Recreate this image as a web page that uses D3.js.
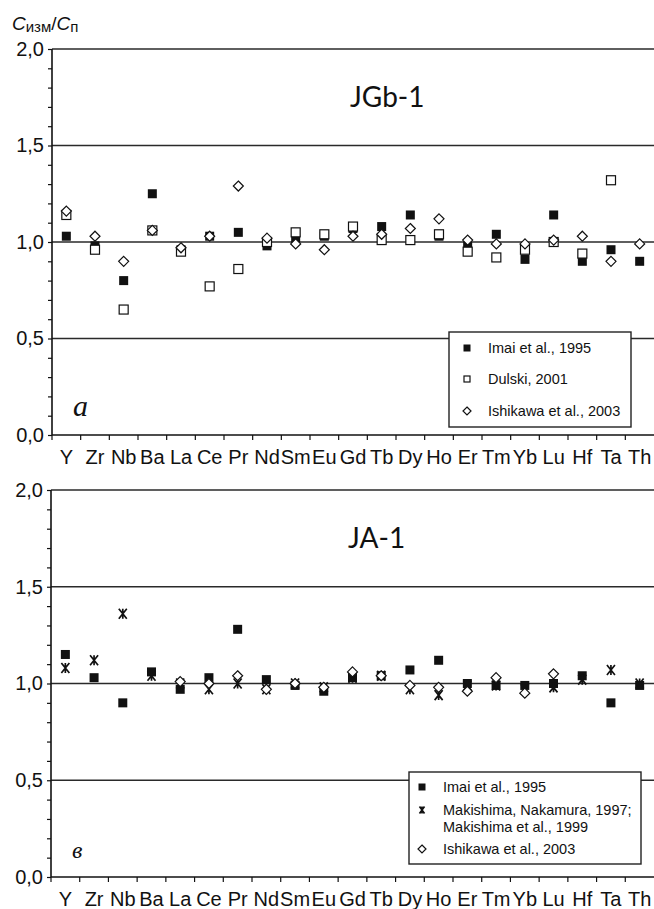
<!DOCTYPE html>
<html>
<head>
<meta charset="utf-8">
<script src="https://cdn.jsdelivr.net/npm/d3@7"></script>
<style>
  body { margin: 0; background: #fff; }
  svg { display: block; }
  text { font-family: "Liberation Sans", Arial, sans-serif; fill: #111; }
</style>
</head>
<body>
<svg width="654" height="909"></svg>
<script>
var elements = ["Y", "Zr", "Nb", "Ba", "La", "Ce", "Pr", "Nd", "Sm", "Eu", "Gd", "Tb", "Dy", "Ho", "Er", "Tm", "Yb", "Lu", "Hf", "Ta", "Th"];
var yTicks = [0, 0.5, 1, 1.5, 2];

// JGb-1
var jgbImai     = [1.03, 0.98, 0.80, 1.25, 0.96, 1.03, 1.05, 0.98, 1.01, 1.03, 1.07, 1.08, 1.14, 1.03, 0.98, 1.04, 0.91, 1.14, 0.90, 0.96, 0.90];
var jgbDulski   = [1.14, 0.96, 0.65, 1.06, 0.95, 0.77, 0.86, 1.00, 1.05, 1.04, 1.08, 1.01, 1.01, 1.04, 0.95, 0.92, 0.96, 1.00, 0.94, 1.32, null];
var jgbIshikawa = [1.16, 1.03, 0.90, 1.06, 0.97, 1.03, 1.29, 1.02, 0.99, 0.96, 1.03, 1.04, 1.07, 1.12, 1.01, 0.99, 0.99, 1.01, 1.03, 0.90, 0.99];

// JA-1
var jaImai      = [1.15, 1.03, 0.90, 1.06, 0.97, 1.03, 1.28, 1.02, 0.99, 0.96, 1.03, 1.04, 1.07, 1.12, 1.00, 0.99, 0.99, 1.00, 1.04, 0.90, 0.99];
var jaMakishima = [1.08, 1.12, 1.36, 1.04, 1.00, 0.97, 1.00, 0.97, 1.00, 0.98, 1.03, 1.04, 0.97, 0.94, 0.99, 0.99, 0.97, 0.98, 1.02, 1.07, 1.00];
var jaIshikawa  = [null, null, null, null, 1.01, 1.00, 1.04, 0.97, 1.00, 0.98, 1.06, 1.04, 0.99, 0.98, 0.96, 1.03, 0.95, 1.05, null, null, null];

var width = 654;
var svg = d3.select("svg");
var ink = "#111";

// marker drawing
function drawMarker(g, kind, cx, cy, s) {
  if (kind === "filled") {
    g.append("rect").attr("x", cx - s/2).attr("y", cy - s/2).attr("width", s).attr("height", s)
      .attr("fill", ink);
  } else if (kind === "open") {
    g.append("rect").attr("x", cx - s/2 + 0.5).attr("y", cy - s/2 + 0.5).attr("width", s - 1).attr("height", s - 1)
      .attr("fill", "#fff").attr("stroke", ink).attr("stroke-width", 1.2);
  } else if (kind === "diamond") {
    var r = s/2 + 0.5;
    g.append("path").attr("d", "M" + cx + "," + (cy - r) + "L" + (cx + r) + "," + cy + "L" + cx + "," + (cy + r) + "L" + (cx - r) + "," + cy + "Z")
      .attr("fill", "#fff").attr("stroke", ink).attr("stroke-width", 1.2);
  } else if (kind === "star") {
    var h = s/2, w = s/2 - 1;
    g.append("path").attr("d",
        "M" + (cx - w) + "," + (cy - h) + "L" + (cx + w) + "," + (cy + h) +
        "M" + (cx + w) + "," + (cy - h) + "L" + (cx - w) + "," + (cy + h) +
        "M" + cx + "," + (cy - h) + "L" + cx + "," + (cy + h))
      .attr("fill", "none").attr("stroke", ink).attr("stroke-width", 1.7);
  }
}

function drawPanel(p) {
  var x = d3.scaleBand().domain(elements).range([p.x0, width]);
  var y = d3.scaleLinear().domain([0, 2]).range([p.yb, p.yt]);
  var g = svg.append("g");

  // horizontal lines
  g.selectAll(".grid").data(yTicks.slice(1)).enter().append("line")
    .attr("x1", p.x0).attr("x2", width)
    .attr("y1", d => y(d)).attr("y2", d => y(d))
    .attr("stroke", "#2a2a2a").attr("stroke-width", 1.4);

  // y axis
  var yAxis = d3.axisLeft(y)
    .tickValues(d3.range(0, 21).map(i => i / 10))
    .tickSize(4)
    .tickPadding(4)
    .tickFormat(d => (Math.round(d * 10) % 5 === 0) ? d3.format(".1f")(d).replace(".", ",") : "");
  var ya = g.append("g").attr("transform", "translate(" + p.x0 + ",0)").call(yAxis);
  ya.select(".domain").attr("stroke", ink).attr("stroke-width", 1.6).attr("d", "M0," + p.yb + "V" + p.yt);
  ya.selectAll(".tick line").attr("stroke", ink).attr("stroke-width", 1.2);
  ya.selectAll(".tick text").style("font-size", "20px").attr("fill", ink)
    .style("font-family", "'Liberation Sans', Arial, sans-serif");

  // x axis
  g.append("line").attr("x1", p.x0).attr("x2", width).attr("y1", y(0)).attr("y2", y(0))
    .attr("stroke", ink).attr("stroke-width", 1.6);
  g.selectAll(".xt").data(elements).enter().append("line")
    .attr("x1", d => x(d)).attr("x2", d => x(d))
    .attr("y1", y(0)).attr("y2", y(0) + 5)
    .attr("stroke", ink).attr("stroke-width", 1.2);
  g.selectAll(".xl").data(elements).enter().append("text")
    .attr("x", d => x(d) + x.bandwidth() / 2)
    .attr("y", y(0) + 29)
    .attr("text-anchor", "middle")
    .style("font-size", "20px")
    .text(d => d);

  // title and letter
  g.append("text").attr("x", p.titleX).attr("y", y(1.75) + 10)
    .style("font-family", "Lato, 'Open Sans', sans-serif").style("font-size", "28px")
    .text(p.title);
  g.append("text").attr("x", p.x0 + 21).attr("y", y(0) - 19)
    .style("font-family", "'Liberation Serif', serif").style("font-style", "italic")
    .style("font-size", p.letterSize + "px")
    .text(p.letter);

  // points
  var pts = g.append("g");
  p.series.forEach(function(s) {
    s.values.forEach(function(v, i) {
      if (v == null) return;
      drawMarker(pts, s.kind, x(elements[i]) + x.bandwidth() / 2, y(v), s.size);
    });
  });

  // legend
  var L = p.legend;
  var lg = g.append("g");
  lg.append("rect").attr("x", L.x).attr("y", L.y).attr("width", L.w).attr("height", L.h)
    .attr("fill", "#fff").attr("stroke", "#222").attr("stroke-width", 1.4);
  L.items.forEach(function(it) {
    drawMarker(lg, it.kind, L.x + L.mx, it.y, 7);
    it.lines.forEach(function(t, j) {
      lg.append("text").attr("x", L.x + L.tx).attr("y", it.y + 5 + j * 17)
        .style("font-size", "14.5px").text(t);
    });
  });
}

// axis title
var ttl = svg.append("text").attr("x", 12).attr("y", 30).style("font-size", "19px");
ttl.append("tspan").style("font-style", "italic").text("C");
ttl.append("tspan").attr("dy", 2).style("font-size", "15px").text("изм");
ttl.append("tspan").attr("dy", -2).text("/");
ttl.append("tspan").style("font-style", "italic").text("C");
ttl.append("tspan").attr("dy", 2).style("font-size", "15px").text("п");

drawPanel({
  x0: 52, yt: 49, yb: 435, title: "JGb-1", titleX: 350, letter: "а", letterSize: 30,
  series: [
    { kind: "filled", values: jgbImai, size: 9 },
    { kind: "open", values: jgbDulski, size: 10 },
    { kind: "diamond", values: jgbIshikawa, size: 9 }
  ],
  legend: { x: 449, y: 332, w: 182, h: 95, mx: 18, tx: 39, items: [
    { kind: "filled", y: 348, lines: ["Imai et al., 1995"] },
    { kind: "open", y: 379, lines: ["Dulski, 2001"] },
    { kind: "diamond", y: 411, lines: ["Ishikawa et al., 2003"] }
  ]}
});

drawPanel({
  x0: 51, yt: 490, yb: 877, title: "JA-1", titleX: 348, letter: "в", letterSize: 24,
  series: [
    { kind: "filled", values: jaImai, size: 9 },
    { kind: "star", values: jaMakishima, size: 10 },
    { kind: "diamond", values: jaIshikawa, size: 9 }
  ],
  legend: { x: 409, y: 772, w: 232, h: 92, mx: 13, tx: 34, items: [
    { kind: "filled", y: 787, lines: ["Imai et al., 1995"] },
    { kind: "star", y: 810, lines: ["Makishima, Nakamura, 1997;", "Makishima et al., 1999"] },
    { kind: "diamond", y: 849, lines: ["Ishikawa et al., 2003"] }
  ]}
});
</script>
</body>
</html>
